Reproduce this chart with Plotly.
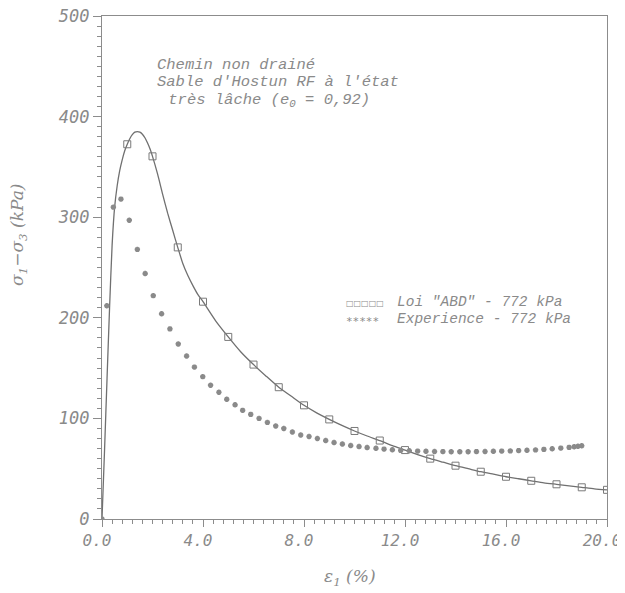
import plotly.graph_objects as go

# ABD model curve (strain %, deviator stress kPa)
model_strain = [0, 0.1, 0.2, 0.3, 0.4, 0.5, 0.6, 0.7, 0.8, 0.9, 1.0, 1.1, 1.2, 1.3, 1.4,
                1.5, 1.6, 1.7, 1.8, 1.9, 2.0, 2.2, 2.4, 2.6, 2.8, 3.0, 3.2, 3.4, 3.6, 3.8,
                4.0, 4.5, 5.0, 5.5, 6.0, 6.5, 7.0, 7.5, 8.0, 8.5, 9.0, 9.5, 10.0, 10.5,
                11.0, 11.5, 12.0, 12.5, 13.0, 13.5, 14.0, 14.5, 15.0, 15.5, 16.0, 16.5,
                17.0, 17.5, 18.0, 18.5, 19.0, 19.5, 20.0]
model_stress = [0, 68, 140, 210, 272, 310, 331, 346, 357, 366, 372.5, 378, 382, 384.5, 385,
                384.5, 382.5, 379, 374, 368, 360.5, 343, 323, 304, 287, 270, 254, 242, 232, 223,
                216, 197, 181, 166, 153.5, 142, 131, 122, 113, 105.5, 99, 93, 87.5, 82.5,
                78, 73, 68.5, 64, 60, 56.5, 53, 50, 47, 44.5, 42, 40, 38, 36, 34.5,
                33, 31.5, 30, 29]

# Experimental points
exp_strain = [0, 0.19, 0.45, 0.75, 1.08, 1.40, 1.71, 2.03, 2.36, 2.69, 3.02, 3.35, 3.66,
              3.99, 4.30, 4.63, 4.94, 5.27, 5.57, 5.89, 6.22, 6.55, 6.88, 7.20, 7.54, 7.87,
              8.20, 8.53, 8.86, 9.19, 9.52, 9.85, 10.18, 10.50, 10.85, 11.17, 11.50, 11.83,
              12.17, 12.50, 12.83, 13.17, 13.50, 13.83, 14.17, 14.50, 14.83, 15.17, 15.50,
              15.83, 16.17, 16.50, 16.83, 17.17, 17.50, 17.83, 18.17, 18.50, 18.70, 18.85, 19.0]
exp_stress = [0, 212, 310, 318, 297, 268, 244, 222, 204, 189, 174, 162, 151,
              141.5, 133, 126, 119, 113.5, 108, 104, 100, 96, 92.5, 90, 86.5, 83.5,
              82, 80, 78, 76, 74.5, 73, 72, 71, 70.3, 69.5, 68.8, 68.2,
              67.8, 67.5, 67.3, 67.1, 67, 66.9, 66.9, 66.9, 67, 67.1, 67.3,
              67.5, 67.7, 68, 68.3, 68.7, 69.2, 69.8, 70.5, 71.2, 71.8, 72.3, 72.8]

x_ticks = [0, 4, 8, 12, 16, 20]
y_ticks = [0, 100, 200, 300, 400, 500]

GRAY_TXT = "#8a8a8a"
GRAY_LINE = "#707070"
AXIS = "#8c8c8c"

mk_x = [x for x in model_strain if float(x).is_integer() and x > 0]
mk_y = [y for x, y in zip(model_strain, model_stress) if float(x).is_integer() and x > 0]

fig = go.Figure()
fig.add_trace(go.Scatter(x=model_strain, y=model_stress, mode="lines",
                         line=dict(color=GRAY_LINE, width=1.3, shape="spline", smoothing=0.6),
                         showlegend=False, hoverinfo="skip"))
fig.add_trace(go.Scatter(x=mk_x, y=mk_y, mode="markers",
                         marker=dict(symbol="square-open", size=7, color="#7a7a7a",
                                     line=dict(width=1, color="#7a7a7a")),
                         showlegend=False))
fig.add_trace(go.Scatter(x=exp_strain, y=exp_stress, mode="markers",
                         marker=dict(symbol="asterisk-open", size=4.5, color="#8a8a8a",
                                     line=dict(width=1.7, color="#8a8a8a")),
                         showlegend=False))

tickfont = dict(family="DejaVu Sans Mono", size=16, color=GRAY_TXT, style="italic")

# The page body has an 8px margin, so the figure is drawn 8px in from the window edge.
OFF = 8
W, H = 625 - OFF, 593 - OFF
L, T = 102 - OFF, 16 - OFF
R, B = 625 - 607, 593 - 519
pw, ph = W - L - R, H - T - B

fig.update_xaxes(range=[0, 20], tickvals=x_ticks, ticktext=[f"{v:.1f}" for v in x_ticks],
                 showline=True, linecolor=AXIS, linewidth=1.2, mirror=True,
                 ticks="outside", ticklen=7, tickcolor=AXIS, tickwidth=1,
                 minor=dict(dtick=0.4, ticks="outside", ticklen=4, tickcolor=AXIS),
                 showgrid=False, zeroline=False, tickfont=tickfont, automargin=False,
                 ticklabeloverflow="allow", ticklabelshift=-5)
fig.update_yaxes(range=[0, 500], tickvals=y_ticks,
                 showline=True, linecolor=AXIS, linewidth=1.2, mirror=True,
                 ticks="outside", ticklen=8, tickcolor=AXIS, tickwidth=1,
                 minor=dict(dtick=10, ticks="outside", ticklen=4, tickcolor=AXIS),
                 showgrid=False, zeroline=False,
                 tickfont=dict(family="DejaVu Sans Mono", size=17, color=GRAY_TXT, style="italic"),
                 automargin=False, ticklabeloverflow="allow")


def px(xp):
    return (xp - OFF - L) / pw


def py(yp):
    return (H - B - (yp - OFF)) / ph


title_font = dict(family="Liberation Mono", size=15.5, color=GRAY_TXT, style="italic")
annos = []
for txt, x0, yc in [("Chemin non drainé", 155, 65),
                    ("Sable d'Hostun RF à l'état", 155, 82.5),
                    ("\u00a0très lâche (e<sub>0</sub> = 0,92)", 157, 100)]:
    annos.append(dict(text=txt, x=px(x0), y=py(yc), xref="paper", yref="paper",
                      xanchor="left", yanchor="middle", showarrow=False, font=title_font))

leg_font = dict(family="Liberation Mono", size=14.5, color=GRAY_TXT, style="italic")
annos.append(dict(text="□□□□□", x=px(344), y=py(303), xref="paper", yref="paper",
                  xanchor="left", yanchor="middle", showarrow=False,
                  font=dict(family="DejaVu Sans", size=8, color=GRAY_TXT)))
annos.append(dict(text="*****", x=px(344), y=py(321), xref="paper", yref="paper",
                  xanchor="left", yanchor="middle", showarrow=False,
                  font=dict(family="DejaVu Sans Mono", size=11, color=GRAY_TXT)))
annos.append(dict(text='Loi "ABD" - 772 kPa', x=px(395), y=py(302), xref="paper", yref="paper",
                  xanchor="left", yanchor="middle", showarrow=False, font=leg_font))
annos.append(dict(text="Experience - 772 kPa", x=px(395), y=py(319), xref="paper", yref="paper",
                  xanchor="left", yanchor="middle", showarrow=False, font=leg_font))

axis_font = dict(family="DejaVu Serif", size=17, color=GRAY_TXT, style="italic")
annos.append(dict(text="ε<sub>1</sub> (%)", x=px(350), y=py(577), xref="paper", yref="paper",
                  xanchor="center", yanchor="middle", showarrow=False, font=axis_font))
annos.append(dict(text="σ<sub>1</sub>−σ<sub>3</sub> (kPa)", x=px(18), y=py(235),
                  xref="paper", yref="paper", xanchor="center", yanchor="middle",
                  showarrow=False, textangle=-90, font=axis_font))

fig.update_layout(width=W, height=H, margin=dict(l=L, r=R, t=T, b=B, autoexpand=False),
                  paper_bgcolor="white", plot_bgcolor="white", annotations=annos,
                  showlegend=False)

fig.write_html("out.html")
